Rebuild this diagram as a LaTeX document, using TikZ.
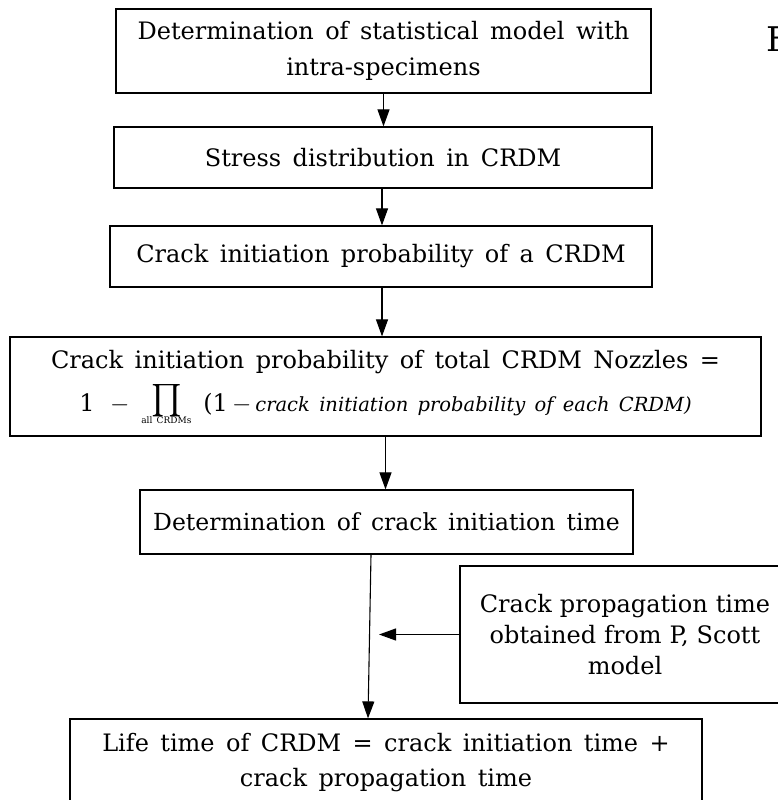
\documentclass[tikz,border=0pt]{standalone}
\usepackage{amsmath}
\usepackage{graphicx}
\usepackage{fontspec}
\setmainfont{DejaVu Serif}[WordSpace=1.5]
\usetikzlibrary{arrows.meta,calc}
\newcommand{\prodall}{\makebox[74pt]{\raisebox{2pt}{\scalebox{1.3}{\(\textstyle\prod\)}}}\llap{\makebox[74pt]{\raisebox{-12pt}{\fontsize{9}{9}\selectfont all CRDMs}}}}
\begin{document}
\begin{tikzpicture}[x=1pt,y=-1pt,
  box/.style={draw,line width=1.2pt,inner sep=0pt,align=center,anchor=center},
  txt/.style={font=\fontsize{24}{36}\selectfont},
  arr/.style={line width=1.1pt,-{Triangle[length=17pt,width=12pt]}}]
\useasboundingbox (0,0) rectangle (778,800);
\begin{scope}
\clip (0,0) rectangle (778,800);
\node[box,txt,minimum width=535,minimum height=84] (b1) at (383.5,51)
  {Determination of statistical model with\\intra-specimens};
\node[box,txt,minimum width=538,minimum height=61] (b2) at (383,157.5)
  {Stress distribution in CRDM};
\node[box,txt,minimum width=542,minimum height=61] (b3) at (381,256.5)
  {Crack initiation probability of a CRDM};
\node[box,font=\fontsize{24}{43}\selectfont,minimum width=751,minimum height=99] (b4) at (385.5,386.5)
  {Crack initiation probability of total CRDM Nozzles =\\
   1 \,\(-\)\prodall(1\,\(-\)\,{\itshape\fontsize{19.5}{24}\selectfont crack initiation probability of each CRDM)}};
\node[box,font=\fontsize{23.5}{36}\selectfont,minimum width=493,minimum height=64] (b5) at (386.5,522)
  {Determination of crack initiation time};
\node[box,font=\fontsize{24}{31}\selectfont,minimum width=330,minimum height=137,text width=320] (b6) at (625,634.5)
  {Crack propagation time\\obtained from P, Scott\\model};
\node[box,font=\fontsize{24}{35}\selectfont,minimum width=632,minimum height=87] (b7) at (386,762.5)
  {Life time of CRDM = crack initiation time +\\crack propagation time};
\node[font=\fontsize{34}{40}\selectfont,anchor=base west,inner sep=0pt] (fig) at (766,52) {F};
\coordinate (j) at (379,634.5);
\draw[arr] (b1.south) -- (b1.south |- b2.north);
\draw[arr] ([xshift=-1pt]b2.south) -- ([xshift=-1pt]b2.south |- b3.north);
\draw[arr] ([xshift=1pt]b3.south) -- ([xshift=1pt]b3.south |- b4.north);
\draw[arr] (b4.south) -- (b4.south |- b5.north);
\draw[arr] ([xshift=-15.5pt]b5.south) -- ([xshift=-18pt]b7.north);
\draw[arr] (b6.west) -- (j);
\end{scope}
\end{tikzpicture}
\end{document}
